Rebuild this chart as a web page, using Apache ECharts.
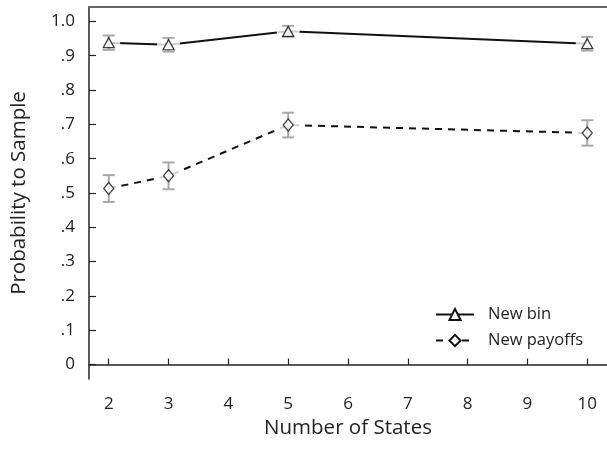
<!DOCTYPE html>
<html>
<head>
<meta charset="utf-8">
<script src="https://cdn.jsdelivr.net/npm/echarts@6/dist/echarts.min.js"></script>
<style>
html,body{margin:0;padding:0;background:#fff;}
#chart{width:607px;height:452px;}
</style>
</head>
<body>
<div id="chart"></div>
<script>
// ---- data ----
var states = [2, 3, 5, 10];
var newBin = [0.938, 0.932, 0.971, 0.935];
var newBinErr = [0.021, 0.020, 0.016, 0.020];
var newPayoffs = [0.513, 0.550, 0.698, 0.675];
var newPayoffsErr = [0.039, 0.039, 0.036, 0.037];
var xTicks = [2, 3, 4, 5, 6, 7, 8, 9, 10];
var yTicks = [0, 0.1, 0.2, 0.3, 0.4, 0.5, 0.6, 0.7, 0.8, 0.9, 1.0];
var yTickLabels = ['0', '.1', '.2', '.3', '.4', '.5', '.6', '.7', '.8', '.9', '1.0'];
var seriesNames = ['New bin', 'New payoffs'];

var FONT = '"Open Sans", "DejaVu Sans", sans-serif';

function pts(ys) { return states.map(function (x, i) { return [x, ys[i]]; }); }
function errPts(ys, es) { return states.map(function (x, i) { return [x, ys[i] - es[i], ys[i] + es[i]]; }); }

function errorBar(params, api) {
  var x = api.value(0);
  var lo = api.coord([x, api.value(1)]);
  var hi = api.coord([x, api.value(2)]);
  var w = 6;
  var st = { stroke: '#a8a8a8', lineWidth: 2 };
  return {
    type: 'group',
    children: [
      { type: 'line', shape: { x1: lo[0], y1: lo[1], x2: hi[0], y2: hi[1] }, style: st },
      { type: 'line', shape: { x1: lo[0] - w, y1: lo[1], x2: lo[0] + w, y2: lo[1] }, style: st },
      { type: 'line', shape: { x1: hi[0] - w, y1: hi[1], x2: hi[0] + w, y2: hi[1] }, style: st }
    ]
  };
}

var chart = echarts.init(document.getElementById('chart'), null, { renderer: 'canvas' });

var option = {
  animation: false,
  backgroundColor: '#fff',
  textStyle: { fontFamily: FONT },
  grid: { left: 89, top: 7, width: 520, height: 372, show: false },
  legend: {
    data: seriesNames,
    orient: 'vertical',
    left: 430,
    top: 301,
    padding: 5,
    itemWidth: 38,
    itemHeight: 14,
    itemGap: 9,
    textStyle: { fontFamily: FONT, fontSize: 16.5, color: '#222', padding: [0, 0, 0, 9] }
  },
  xAxis: [{
    type: 'value',
    min: 1.67,
    max: 10.33,
    name: 'Number of States',
    nameLocation: 'middle',
    nameGap: 33,
    nameTextStyle: { fontFamily: FONT, fontSize: 20.5, color: '#222' },
    axisLine: { show: true, lineStyle: { color: '#222', width: 1.5 } },
    axisTick: { show: true, inside: true, length: 6, customValues: xTicks, lineStyle: { color: '#222', width: 1.2 } },
    axisLabel: { customValues: xTicks, margin: 17, fontFamily: FONT, fontSize: 17, color: '#222' },
    splitLine: { show: false }
  }, {
    type: 'value',
    position: 'top',
    min: 1.67,
    max: 10.33,
    axisLine: { show: true, lineStyle: { color: '#666', width: 2 } },
    axisTick: { show: false },
    axisLabel: { show: false },
    splitLine: { show: false }
  }],
  yAxis: {
    type: 'value',
    min: -0.042,
    max: 1.042,
    name: 'Probability to Sample',
    nameLocation: 'middle',
    nameGap: 59,
    nameTextStyle: { fontFamily: FONT, fontSize: 20.5, color: '#222' },
    axisLine: { show: true, lineStyle: { color: '#222', width: 1.5 } },
    axisTick: { show: true, inside: true, length: 7, customValues: yTicks, lineStyle: { color: '#222', width: 1.2 } },
    axisLabel: {
      customValues: yTicks,
      margin: 14,
      fontFamily: FONT,
      fontSize: 17,
      color: '#222',
      formatter: function (v) {
        for (var i = 0; i < yTicks.length; i++) {
          if (Math.abs(yTicks[i] - v) < 1e-6) return yTickLabels[i];
        }
        return '';
      }
    },
    splitLine: { show: false }
  },
  series: [
    {
      name: seriesNames[0], type: 'line', data: pts(newBin), z: 2,
      symbol: 'triangle', symbolSize: [11, 10], showSymbol: false,
      lineStyle: { color: '#111', width: 2, type: 'solid' },
      itemStyle: { color: '#fff', borderColor: '#111', borderWidth: 1.3 }
    },
    {
      name: seriesNames[1], type: 'line', data: pts(newPayoffs), z: 2,
      symbol: 'diamond', symbolSize: [10, 12], showSymbol: false,
      lineStyle: { color: '#111', width: 2, type: [7, 6] },
      itemStyle: { color: '#fff', borderColor: '#111', borderWidth: 1.3 }
    },
    {
      name: 'halo', type: 'scatter', silent: true, z: 3,
      data: pts(newBin).concat(pts(newPayoffs)),
      symbol: 'circle', symbolSize: 23,
      itemStyle: { color: '#fff' }
    },
    {
      name: 'errBin', type: 'custom', silent: true, z: 4,
      renderItem: errorBar, data: errPts(newBin, newBinErr),
      encode: { x: 0, y: [1, 2] }
    },
    {
      name: 'errPay', type: 'custom', silent: true, z: 4,
      renderItem: errorBar, data: errPts(newPayoffs, newPayoffsErr),
      encode: { x: 0, y: [1, 2] }
    },
    {
      name: 'mBin', type: 'scatter', silent: true, z: 5,
      data: pts(newBin), symbol: 'triangle', symbolSize: [11, 10],
      itemStyle: { color: '#fff', borderColor: '#111', borderWidth: 1.3 }
    },
    {
      name: 'mPay', type: 'scatter', silent: true, z: 5,
      data: pts(newPayoffs), symbol: 'diamond', symbolSize: [10, 12],
      itemStyle: { color: '#fff', borderColor: '#111', borderWidth: 1.3 }
    }
  ]
};

chart.setOption(option);
</script>
</body>
</html>
